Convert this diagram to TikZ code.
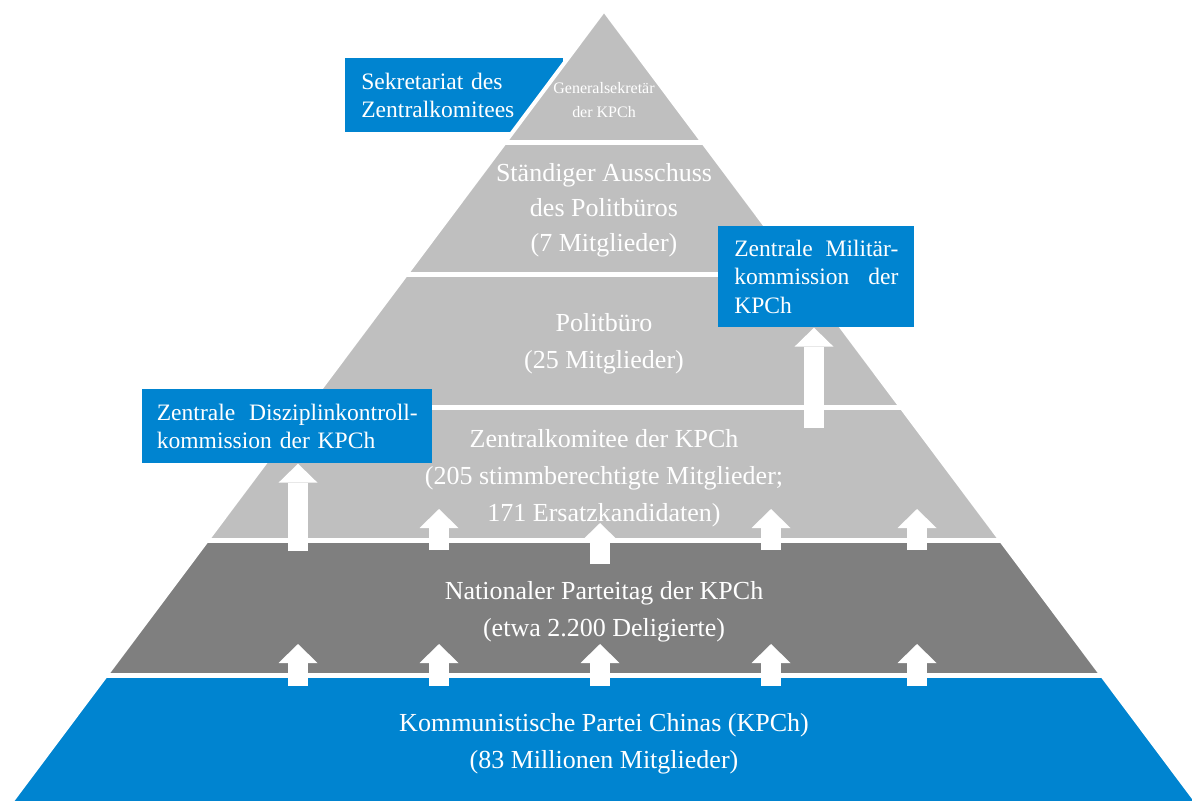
\documentclass[tikz,border=0pt]{standalone}
\usepackage{fontspec}
\setmainfont{Liberation Serif}
\definecolor{kpblue}{RGB}{0,132,208}
\definecolor{kplight}{RGB}{191,191,191}
\definecolor{kpdark}{RGB}{127,127,127}
\usetikzlibrary{arrows.meta,positioning}

\begin{document}
\begin{tikzpicture}[x=0.02cm,y=-0.02cm,
  layer/.style={text=white,align=center,font=\fontsize{14.8}{21}\selectfont},
  toplayer/.style={text=white,align=center,font=\fontsize{9.1}{13.7}\selectfont},
  sidebox/.style={fill=kpblue,text=white,align=left,anchor=north west,inner xsep=0.32cm,inner ysep=0pt,font=\fontsize{13.4}{16.2}\selectfont},
  uparrow/.style={draw=white,line width=0.4cm,-{Triangle[length=0.38cm 0 0,width=0.78cm 0 0,line width=0pt]}},
  gap/.style={draw=white,line width=0.1cm}]
  \useasboundingbox (0,0) rectangle (1192,801);
  % Sekretariat (behind the pyramid tip)
  \node[sidebox,text width=3.72cm,minimum height=1.48cm] (sekr) at (345,58) {Sekretariat des\\Zentralkomitees};
  % Pyramid layers
  \begin{scope}
    \clip (604,10) -- (1196,801) -- (12,801) -- cycle;
    \fill[kplight] (0,0) rectangle (1192,541);
    \fill[kpdark] (0,541) rectangle (1192,675);
    \fill[kpblue] (0,675) rectangle (1192,801);
    \foreach \y in {142.5,274.5,407.5,540.5,675}
      \draw[gap] (0,\y) -- (1192,\y);
  \end{scope}
  \draw[white,line width=0.08cm] (12,801) -- (604,10) -- (1196,801);
  % Layer texts
  \node[toplayer] (gensek) at (604,100) {Generalsekretär\\der KPCh};
  \node[layer,font=\fontsize{14.8}{20}\selectfont] (stand) at (604,210) {Ständiger Ausschuss\\des Politbüros\\(7 Mitglieder)};
  \node[layer] (polit) at (604,344) {Politbüro\\(25 Mitglieder)};
  \node[layer] (zk) at (604,478) {Zentralkomitee der KPCh\\(205 stimmberechtigte Mitglieder;\\171 Ersatzkandidaten)};
  \node[layer] (npt) at (604,612) {Nationaler Parteitag der KPCh\\(etwa 2.200 Deligierte)};
  \node[layer] (kpch) at (604,744) {Kommunistische Partei Chinas (KPCh)\\(83 Millionen Mitglieder)};
  % Commissions
  \node[sidebox,text width=3.28cm,minimum height=2.02cm] (milk) at (718,226) {Zentrale\hfill Militär-\\kommission\hfill der\\KPCh};
  \node[sidebox,text width=5.22cm,inner xsep=0.29cm,minimum height=1.48cm] (diszk) at (142,389) {Zentrale\hfill Disziplinkontroll-\\kommission der KPCh};
  % Arrows into the commissions
  \coordinate (dtail) at (298,551);
  \coordinate (mtail) at (814,428);
  \draw[uparrow] (dtail) -- (dtail |- diszk.south);
  \draw[uparrow] (mtail) -- (mtail |- milk.south);
  % Arrows between the layers
  \foreach \x/\ytip in {439/509,600/523,771/509,917/509}{
    \coordinate (zt\x) at (\x,\ytip+41);
    \coordinate (zh\x) at (\x,\ytip);
    \draw[uparrow] (zt\x) -- (zh\x);
  }
  \foreach \x in {298,439,600,771,917}{
    \coordinate (nt\x) at (\x,686);
    \coordinate (nh\x) at (\x,644);
    \draw[uparrow] (nt\x) -- (nh\x);
  }
\end{tikzpicture}
\end{document}
